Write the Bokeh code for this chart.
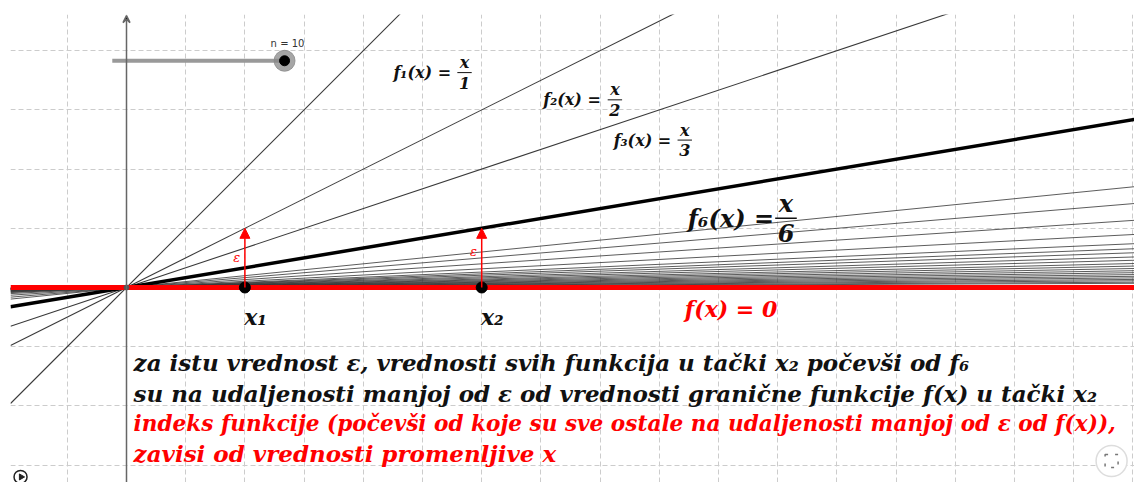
import numpy as np
from bokeh.plotting import figure
from bokeh.models import Range1d, Grid, SingleIntervalTicker, Arrow, NormalHead, VeeHead
from bokeh.core.properties import value
from bokeh.embed import file_html
from bokeh.resources import INLINE

# Sequence of functions f_n(x) = x / n converging to f(x) = 0
labeled_n = [1, 2, 3]          # thin lines with their formula shown
highlight_n = 6                # thick line f_6
tail_n = [10, 12, 15, 19, 23, 26, 29, 33, 37, 42, 47, 53, 60, 68, 78, 90, 105, 125, 150, 190, 240]
slider_n = 10
x1_val, x2_val = 2, 6          # the two points on the x axis
eps = 1                        # epsilon distance

# label placement (data units): n, text left, text mid-y, fraction centre-x, font px
f_labels = [
    (1, 4.51, 3.63, 5.71, 16),
    (2, 7.04, 3.17, 8.25, 16),
    (3, 8.23, 2.49, 9.43, 16),
    (6, 9.48, 1.17, 11.14, 24),
]
text_lines = [
    ("za istu vrednost \u03b5, vrednosti svih funkcija u ta\u010dki x\u2082 po\u010dev\u0161i od f\u2086", "#111111", 23),
    ("su na udaljenosti manjoj od \u03b5 od vrednosti grani\u010dne funkcije f(x) u ta\u010dki x\u2082", "#111111", 23),
    ("indeks funkcije (po\u010dev\u0161i od koje su sve ostale na udaljenosti manjoj od \u03b5 od f(x)),", "#ff0000", 21.6),
    ("zavisi od vrednosti promenljive x", "#ff0000", 23),
]
text_y = [-1.27, -1.79, -2.30, -2.81]

UNIT = 59.2                      # pixels per unit
W, H = 1134, 482
LEFT, TOP = 10, 14
x_min, x_max = -116 / UNIT, 1008 / UNIT
y_min, y_max = -195 / UNIT, 273 / UNIT

SERIF = value("DejaVu Serif")

p = figure(width=W, height=H, x_range=Range1d(x_min, x_max), y_range=Range1d(y_min, y_max),
           x_axis_type=None, y_axis_type=None, toolbar_location=None, output_backend="svg",
           min_border_left=LEFT, min_border_top=TOP, min_border_right=0, min_border_bottom=0)
p.outline_line_color = None
p.background_fill_color = "white"

for dim in (0, 1):
    p.add_layout(Grid(dimension=dim, ticker=SingleIntervalTicker(interval=1),
                      grid_line_color="#cccccc", grid_line_dash="5 3", grid_line_width=1))

# y axis with arrow
p.add_layout(Arrow(end=VeeHead(size=7, line_color="#666666", line_width=1.5),
                   x_start=0, y_start=y_min, x_end=0, y_end=y_max - 0.02,
                   line_color="#666666", line_width=1.5))

def seg(n):
    return [x_min, x_max], [x_min / n, x_max / n]

# tail of the sequence
xs, ys = zip(*[seg(n) for n in tail_n])
p.multi_line(list(xs), list(ys), line_color="#333333", line_alpha=0.8, line_width=1)
# first functions
xs, ys = zip(*[seg(n) for n in labeled_n])
p.multi_line(list(xs), list(ys), line_color="#3a3a3a", line_width=1.1)
# highlighted f_6
hx, hy = seg(highlight_n)
p.line(hx, hy, line_color="black", line_width=3.5)

# limit function f(x) = 0
p.line([x_min, x_max], [0, 0], line_color="#ff0000", line_width=5)

# epsilon arrows
for xv in (x1_val, x2_val):
    p.add_layout(Arrow(end=NormalHead(size=10, fill_color="#ff0000", line_color="#ff0000"),
                       x_start=xv, y_start=0, x_end=xv, y_end=eps,
                       line_color="#ff0000", line_width=1.5))
p.text([x1_val - 0.08, x2_val - 0.08], [0.5, 0.6], text=["\u03b5", "\u03b5"],
       text_font=value("DejaVu Serif"), text_font_style="italic",
       text_font_size={"value": "13px"}, text_color="#ff0000",
       text_align="right", text_baseline="middle")
p.scatter([0], [0], size=5, color="#555555")
p.scatter([x1_val, x2_val], [0, 0], size=11, color="black")

# point labels
p.text([x1_val + 0.18, x2_val + 0.18], [-0.5, -0.5], text=["x\u2081", "x\u2082"],
       text_font=SERIF, text_font_style="bold italic", text_font_size="22px",
       text_color="#111111", text_align="center", text_baseline="middle")
p.text([9.43], [-0.36], text=["f(x) = 0"], text_font=SERIF, text_font_style="bold italic",
       text_font_size="22px", text_color="#ff0000", text_align="left", text_baseline="middle")

# f_n labels with fractions
for n, xl, ym, xf, fs in f_labels:
    sub = str(n).translate(str.maketrans("0123456789", "\u2080\u2081\u2082\u2083\u2084\u2085\u2086\u2087\u2088\u2089"))
    p.text([xl], [ym], text=[f"f{sub}(x) ="], text_font=SERIF, text_font_style="bold italic",
           text_font_size=f"{fs}px", text_color="#111111", text_align="left", text_baseline="middle")
    d = 0.62 * fs / UNIT
    p.text([xf, xf], [ym + d, ym - d], text=["x", str(n)], text_font=SERIF,
           text_font_style="bold italic", text_font_size=f"{fs}px", text_color="#111111",
           text_align="center", text_baseline="middle")
    hw = 0.45 * fs / UNIT
    p.line([xf - hw, xf + hw], [ym, ym], line_color="#111111", line_width=max(1, fs / 16))

# explanatory text
for (t, c, fs), yv in zip(text_lines, text_y):
    p.text([0.12], [yv], text=[t], text_font=SERIF, text_font_style="bold italic",
           text_font_size=f"{fs}px", text_color=c, text_align="left", text_baseline="middle")

# slider for n
sy = 3.83
p.line([-0.24, 2.67], [sy, sy], line_color="#999999", line_width=4)
p.scatter([2.67], [sy], size=21, color="#888888", alpha=0.75)
p.scatter([2.67], [sy], size=10, color="black")
p.text([2.72], [4.12], text=[f"n = {slider_n}"], text_font=value("DejaVu Sans"),
       text_font_size="10px", text_color="#333333", text_align="center", text_baseline="middle")

# play button and fullscreen button
p.scatter([-1.79], [-3.2], size=13, fill_color="white", line_color="#222222", line_width=1.5)
p.scatter([-1.78], [-3.2], marker="triangle", angle=-np.pi / 2, size=6, color="#222222")
p.scatter([16.64], [-2.93], size=31, fill_color="white", line_color="#dddddd", line_width=1.5)
p.scatter([16.64], [-2.93], marker="square", size=13, fill_color=None, line_color="#777777",
          line_width=1.5, line_dash="3 7")

open("out.html", "w").write(file_html(p, INLINE))
